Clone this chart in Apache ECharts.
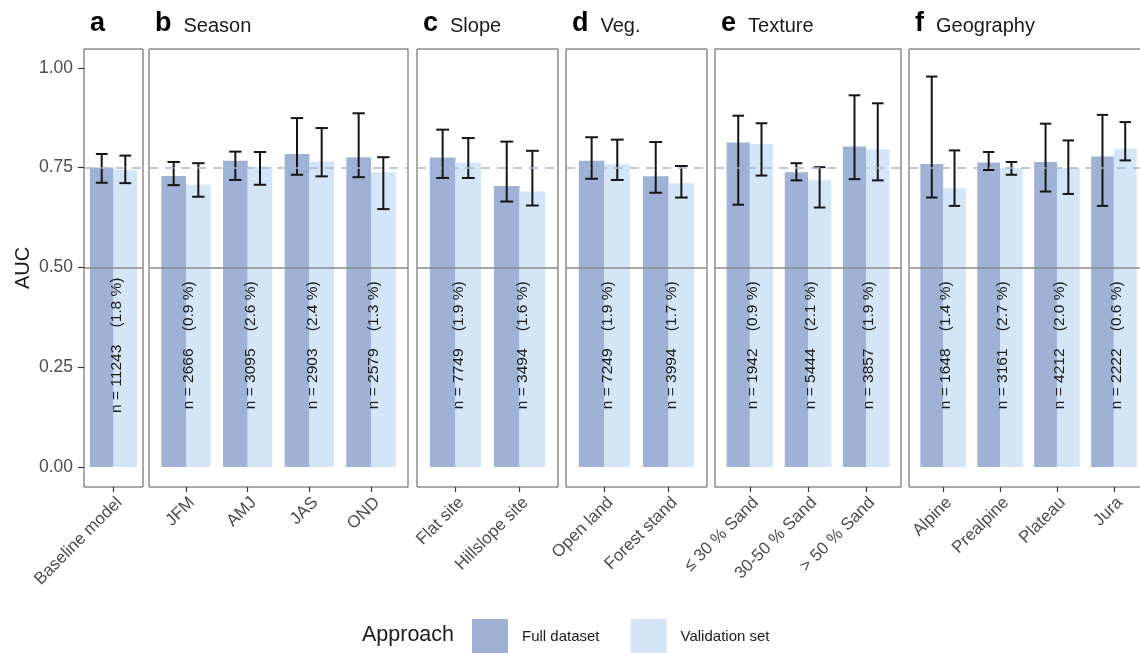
<!DOCTYPE html>
<html>
<head>
<meta charset="utf-8">
<script src="https://cdn.jsdelivr.net/npm/echarts@6/dist/echarts.min.js"></script>
<style>
  html, body { margin: 0; padding: 0; background: #fff; }
  #chart-container { width: 1140px; height: 653px; }
</style>
</head>
<body>
<div id="chart-container"></div>
<script>
// data
var categories = ['Baseline model', 'JFM', 'AMJ', 'JAS', 'OND', 'Flat site', 'Hillslope site',
  'Open land', 'Forest stand', '≤ 30 % Sand', '30-50 % Sand', '> 50 % Sand',
  'Alpine', 'Prealpine', 'Plateau', 'Jura'];
var panelOf = [0, 1, 1, 1, 1, 2, 2, 3, 3, 4, 4, 4, 5, 5, 5, 5];
var panelLetters = ['a', 'b', 'c', 'd', 'e', 'f'];
var panelNames = ['', 'Season', 'Slope', 'Veg.', 'Texture', 'Geography'];

var fullAuc  = [0.750, 0.729, 0.767, 0.784, 0.776, 0.775, 0.704, 0.767, 0.728, 0.813, 0.738, 0.803, 0.759, 0.763, 0.764, 0.778];
var fullLow  = [0.712, 0.706, 0.719, 0.732, 0.726, 0.724, 0.665, 0.722, 0.687, 0.657, 0.718, 0.721, 0.675, 0.744, 0.690, 0.654];
var fullHigh = [0.784, 0.764, 0.790, 0.874, 0.886, 0.845, 0.815, 0.826, 0.814, 0.880, 0.761, 0.931, 0.978, 0.789, 0.860, 0.882];

var validAuc  = [0.744, 0.707, 0.752, 0.765, 0.738, 0.763, 0.690, 0.759, 0.711, 0.809, 0.718, 0.796, 0.698, 0.749, 0.749, 0.797];
var validLow  = [0.711, 0.677, 0.707, 0.728, 0.646, 0.724, 0.655, 0.719, 0.675, 0.730, 0.650, 0.718, 0.654, 0.732, 0.684, 0.768];
var validHigh = [0.780, 0.761, 0.789, 0.849, 0.776, 0.824, 0.792, 0.820, 0.754, 0.861, 0.751, 0.911, 0.793, 0.764, 0.818, 0.864];

var nObs = [11243, 2666, 3095, 2903, 2579, 7749, 3494, 7249, 3994, 1942, 5444, 3857, 1648, 3161, 4212, 2222];
var nPct = ['1.8', '0.9', '2.6', '2.4', '1.3', '1.9', '1.6', '1.9', '1.7', '0.9', '2.1', '1.9', '1.4', '2.7', '2.0', '0.6'];

var yTicks = [0, 0.25, 0.5, 0.75, 1];
var refLines = [0.5, 0.75];

// layout
var FONT = '"Liberation Sans", Arial, sans-serif';
var panelLeft = [84, 149, 417, 566, 715, 909];
var panelWidth = [59, 259, 141, 141, 186, 239];
var plotTop = 49, plotHeight = 438;
var colFull = '#9fb2d5', colValid = '#d5e5f8';

var dom = document.getElementById('chart-container');
var myChart = echarts.init(dom, null, { renderer: 'canvas' });

function barRenderer(side, color) {
  return function (params, api) {
    var x = api.value(0);
    var unit = api.size([1, 0])[0];
    var base = api.coord([x, 0]);
    var top = api.coord([x, api.value(1)]);
    var lo = api.coord([x, api.value(2)])[1];
    var hi = api.coord([x, api.value(3)])[1];
    var bw = unit * 0.4;
    var left = side < 0 ? base[0] - bw : base[0];
    var cx = left + bw / 2;
    var cap = unit * 0.1;
    var ebStyle = { stroke: '#151515', lineWidth: 2 };
    return {
      type: 'group',
      children: [
        { type: 'rect', shape: { x: left, y: top[1], width: bw, height: base[1] - top[1] }, style: { fill: color } },
        { type: 'line', shape: { x1: cx, y1: lo, x2: cx, y2: hi }, style: ebStyle },
        { type: 'line', shape: { x1: cx - cap, y1: lo, x2: cx + cap, y2: lo }, style: ebStyle },
        { type: 'line', shape: { x1: cx - cap, y1: hi, x2: cx + cap, y2: hi }, style: ebStyle }
      ]
    };
  };
}

function labelRenderer(params, api) {
  var p = api.coord([api.value(0), 0.305]);
  return {
    type: 'text',
    x: p[0] + 3,
    y: p[1],
    rotation: Math.PI / 2,
    style: {
      text: 'n = ' + nObs[api.value(1)] + '    (' + nPct[api.value(1)] + ' %)',
      font: '15.5px ' + FONT,
      fill: '#1a1a1a',
      align: 'center',
      verticalAlign: 'middle'
    }
  };
}

var grids = [], xAxes = [], yAxes = [], series = [], titles = [];

panelLetters.forEach(function (letter, p) {
  var idx = [];
  panelOf.forEach(function (q, i) { if (q === p) idx.push(i); });
  var cats = idx.map(function (i) { return categories[i]; });
  var pad = p === 0 ? 0.5 : 0.6;
  var local = cats.map(function (c, k) { return k; });

  grids.push({
    left: panelLeft[p], top: plotTop, width: panelWidth[p], height: plotHeight,
    outerBoundsMode: 'none', containLabel: false,
    show: true, borderColor: '#555', borderWidth: 1, backgroundColor: 'transparent'
  });

  xAxes.push({
    type: 'value', gridIndex: p, min: -pad, max: cats.length - 1 + pad,
    splitLine: { show: false },
    axisLine: { show: false, onZero: false },
    axisTick: { show: true, inside: false, customValues: local, length: 5, lineStyle: { color: '#333', width: 1.2 } },
    axisLabel: {
      customValues: local, rotate: 45, margin: 7,
      align: 'right', verticalAlign: 'top',
      fontSize: 17, fontFamily: FONT, color: '#4d4d4d',
      formatter: function (v) { return cats[Math.round(v)]; }
    }
  });

  yAxes.push({
    type: 'value', gridIndex: p, min: -0.05, max: 1.047,
    name: p === 0 ? 'AUC' : '',
    nameLocation: 'middle', nameGap: 51,
    nameTextStyle: { fontSize: 20, fontFamily: FONT, color: '#1a1a1a' },
    splitLine: { show: false },
    axisLine: { show: false, onZero: false },
    axisTick: { show: p === 0, inside: false, customValues: yTicks, length: 6, lineStyle: { color: '#333', width: 1.2 } },
    axisLabel: {
      show: p === 0, customValues: yTicks, margin: 11,
      fontSize: 17.5, fontFamily: FONT, color: '#4d4d4d',
      formatter: function (v) { return v.toFixed(2); }
    }
  });

  titles.push({
    text: '{l|' + letter + '}' + (panelNames[p] ? '{n|' + panelNames[p] + '}' : ''),
    left: panelLeft[p] + 1, top: 2,
    textStyle: {
      rich: {
        l: { fontSize: 27, fontWeight: 'bold', fontFamily: FONT, color: '#000', verticalAlign: 'bottom', lineHeight: 30 },
        n: { fontSize: 20, fontWeight: 'normal', fontFamily: FONT, color: '#1a1a1a', padding: [0, 0, 1, 12], verticalAlign: 'bottom', lineHeight: 30 }
      }
    }
  });

  series.push({
    type: 'line', xAxisIndex: p, yAxisIndex: p, data: [], z: 1, silent: true,
    markLine: {
      silent: true, symbol: 'none', label: { show: false },
      data: [
        { yAxis: refLines[0], lineStyle: { color: '#8a8a8a', type: 'solid', width: 1.6 } },
        { yAxis: refLines[1], lineStyle: { color: '#a9b5d0', type: [9, 7], width: 1.6 } }
      ]
    }
  });

  series.push({
    name: 'Full dataset', type: 'custom', xAxisIndex: p, yAxisIndex: p, z: 2,
    itemStyle: { color: colFull },
    renderItem: barRenderer(-1, colFull),
    data: idx.map(function (i, k) { return [k, fullAuc[i], fullLow[i], fullHigh[i]]; })
  });
  series.push({
    name: 'Validation set', type: 'custom', xAxisIndex: p, yAxisIndex: p, z: 2,
    itemStyle: { color: colValid },
    renderItem: barRenderer(1, colValid),
    data: idx.map(function (i, k) { return [k, validAuc[i], validLow[i], validHigh[i]]; })
  });
  series.push({
    type: 'custom', xAxisIndex: p, yAxisIndex: p, z: 3, silent: true,
    renderItem: labelRenderer,
    data: idx.map(function (i, k) { return [k, i]; })
  });
});

var option = {
  animation: false,
  backgroundColor: '#fff',
  title: titles,
  grid: grids,
  xAxis: xAxes,
  yAxis: yAxes,
  legend: {
    data: ['Full dataset', 'Validation set'],
    left: 472, top: 619, padding: 0,
    icon: 'rect', itemWidth: 36, itemHeight: 36, itemGap: 31,
    textStyle: { fontSize: 15, fontFamily: FONT, color: '#1a1a1a', padding: [0, 0, 0, 9] }
  },
  graphic: [{
    type: 'text', left: 362, top: 624,
    style: { text: 'Approach', font: '21.5px ' + FONT, fill: '#1a1a1a' }
  }],
  series: series
};

myChart.setOption(option);
window.addEventListener('resize', myChart.resize);
</script>
</body>
</html>
